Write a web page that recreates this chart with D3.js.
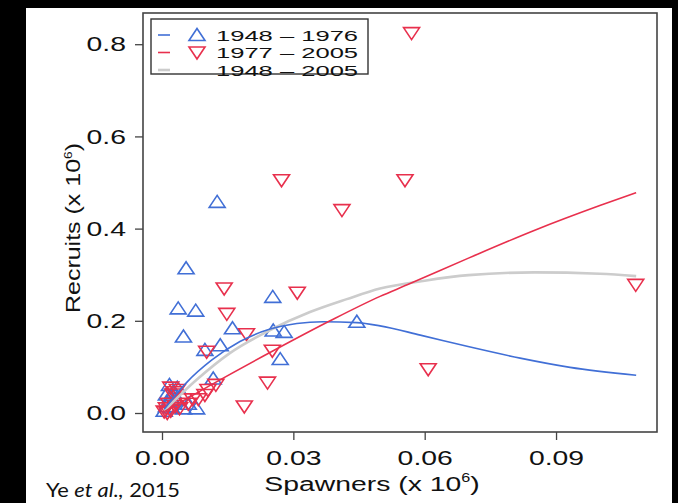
<!DOCTYPE html>
<html><head><meta charset="utf-8">
<script src="https://cdn.jsdelivr.net/npm/d3@7"></script>
<style>html,body{margin:0;padding:0;background:#000;}svg{display:block;}</style>
</head><body>
<svg id="c" width="678" height="503"></svg>
<script>
// ---- data ----
const xTicks = [0.00, 0.03, 0.06, 0.09];
const yTicks = [0.0, 0.2, 0.4, 0.6, 0.8];
const legendLabels = ["1948 \u2013 1976", "1977 \u2013 2005", "1948 \u2013 2005"];

// 1948-1976 (blue, up triangles): spawners, recruits
const earlyS = [0.0126,0.0055,0.0037,0.0077,0.0049,0.0253,0.0161,0.0254,0.0279,0.0270,0.0445,0.0133,0.0098,0.0117,0.0017,0.0079,0.0049,0.0005,0.0010,0.0015,0.0020,0.0025,0.0030,0.0035,0.0060,0.0010,0.0022];
const earlyR = [0.458,0.314,0.227,0.222,0.166,0.252,0.184,0.179,0.176,0.117,0.198,0.147,0.137,0.075,0.061,0.010,0.010,0.005,0.015,0.025,0.035,0.045,0.030,0.055,0.020,0.040,0.012];

// 1977-2005 (red, down triangles)
const lateS = [0.0570,0.0555,0.1082,0.0608,0.0273,0.0411,0.0142,0.0309,0.0148,0.0193,0.0252,0.0102,0.0241,0.0188,0.0123,0.0098,0.0083,0.0005,0.0010,0.0015,0.0020,0.0030,0.0040,0.0025,0.0035,0.0050,0.0060,0.0070,0.0105,0.0020,0.0030,0.0012];
const lateR = [0.824,0.505,0.278,0.095,0.505,0.440,0.270,0.261,0.215,0.171,0.135,0.133,0.066,0.014,0.061,0.039,0.030,0.003,0.010,0.020,0.005,0.015,0.010,0.040,0.050,0.030,0.020,0.030,0.050,0.055,0.045,0.000];

// fitted curves
const fitEarlyS = [0.0005,0.0056,0.0114,0.0178,0.0247,0.0308,0.0368,0.0445,0.0498,0.0590,0.0704,0.0818,0.0932,0.1083];
const fitEarlyR = [0.008,0.066,0.115,0.155,0.182,0.194,0.198,0.196,0.189,0.169,0.143,0.119,0.099,0.082];
const fitLateS  = [0.0005,0.0110,0.0254,0.0384,0.0498,0.0560,0.0700,0.0850,0.1000,0.1083];
const fitLateR  = [0.003,0.060,0.135,0.200,0.253,0.278,0.336,0.396,0.450,0.478];
const fitAllS   = [0.0005,0.0079,0.0155,0.0247,0.0338,0.0422,0.0498,0.0600,0.0700,0.0850,0.1000,0.1083];
const fitAllR   = [0.005,0.072,0.130,0.180,0.219,0.247,0.270,0.287,0.299,0.305,0.302,0.297];

const blue = "#416fd6", red = "#e8304d", gray = "#cccccc";

// ---- layout ----
const svg = d3.select("#c");
svg.append("rect").attr("x",26).attr("y",8).attr("width",646).attr("height",495).attr("fill","#fff");

const L = 143, R = 657, T = 13, B = 432;
const x = d3.scaleLinear().domain([-0.00434, 0.11306]).range([L, R]);
const y = d3.scaleLinear().domain([-0.0412, 0.8677]).range([B, T]);

const font = "'Liberation Sans', Arial, Helvetica, sans-serif";
const SX = 1.35; // horizontal stretch of the original figure's lettering

function stretchText(sel, sx){
  sel.each(function(){
    const t = d3.select(this);
    const ax = +t.attr("x") || 0, ay = +t.attr("y") || 0;
    t.attr("transform", `translate(${ax},${ay}) scale(${sx},1) translate(${-ax},${-ay})`);
  });
}

// axes
const xAxis = svg.append("g").attr("transform",`translate(0,${B})`)
  .call(d3.axisBottom(x).tickValues(xTicks).tickFormat(d3.format(".2f")).tickSize(8).tickPadding(10));
const yAxis = svg.append("g").attr("transform",`translate(${L},0)`)
  .call(d3.axisLeft(y).tickValues(yTicks).tickFormat(d3.format(".1f")).tickSize(8).tickPadding(9));
[xAxis,yAxis].forEach(g=>{
  g.select(".domain").remove();
  g.selectAll(".tick line").attr("stroke","#444").attr("stroke-width",1.3);
  g.selectAll(".tick text").attr("font-family",font).attr("font-size",21).attr("fill","#111");
  stretchText(g.selectAll(".tick text"), SX);
});

// plot box
svg.append("rect").attr("x",L).attr("y",T).attr("width",R-L).attr("height",B-T)
  .attr("fill","none").attr("stroke","#444").attr("stroke-width",1.6);

// curves
const line = d3.line().curve(d3.curveMonotoneX);
function drawFit(xs, ys, color, w){
  svg.append("path").attr("d", line(xs.map((s,i)=>[x(s), y(ys[i])])))
    .attr("fill","none").attr("stroke",color).attr("stroke-width",w);
}

// triangles
function triUp(cx, cy){ return `M${cx-8},${cy+5.5}L${cx+8},${cy+5.5}L${cx},${cy-6.5}Z`; }
function triDown(cx, cy){ return `M${cx-8},${cy-5.5}L${cx+8},${cy-5.5}L${cx},${cy+6.5}Z`; }

const gPts = svg.append("g");
gPts.selectAll("path.e").data(earlyS).join("path").attr("class","e")
  .attr("d",(s,i)=>triUp(x(s), y(earlyR[i])))
  .attr("fill","none").attr("stroke",blue).attr("stroke-width",1.6);
gPts.selectAll("path.l").data(lateS).join("path").attr("class","l")
  .attr("d",(s,i)=>triDown(x(s), y(lateR[i])))
  .attr("fill","none").attr("stroke",red).attr("stroke-width",1.6);

drawFit(fitAllS, fitAllR, gray, 2.6);
drawFit(fitEarlyS, fitEarlyR, blue, 1.6);
drawFit(fitLateS, fitLateR, red, 1.6);

// legend
const lg = svg.append("g");
lg.append("rect").attr("x",151).attr("y",19).attr("width",217).attr("height",55)
  .attr("fill","#fff").attr("stroke","#333").attr("stroke-width",1.4);
const rows = [{c:blue, t:"up"},{c:red, t:"down"},{c:gray, t:null}];
rows.forEach((r,i)=>{
  const cy = 35 + i*17.5;
  lg.append("line").attr("x1",158).attr("x2",170).attr("y1",cy).attr("y2",cy)
    .attr("stroke",r.c).attr("stroke-width",r.t?1.6:2.6);
  if(r.t==="up") lg.append("path").attr("d",triUp(197,cy)).attr("fill","none").attr("stroke",r.c).attr("stroke-width",1.6);
  if(r.t==="down") lg.append("path").attr("d",triDown(197,cy)).attr("fill","none").attr("stroke",r.c).attr("stroke-width",1.6);
  const t = lg.append("text").attr("x",216).attr("y",cy+5.8).attr("font-family",font).attr("font-size",15.5).attr("fill","#111")
    .text(legendLabels[i]);
  stretchText(t, 1.65);
});

// axis titles
const xt = svg.append("text").attr("x",372).attr("y",491).attr("text-anchor","middle")
  .attr("font-family",font).attr("font-size",21).attr("fill","#111");
xt.append("tspan").text("Spawners (x 10");
xt.append("tspan").attr("font-size",12).attr("dy",-9).text("6");
xt.append("tspan").attr("dy",9).text(")");
stretchText(xt, SX);

const yt = svg.append("text").attr("transform",`translate(80,228) rotate(-90) scale(1.25,1)`).attr("text-anchor","middle")
  .attr("font-family",font).attr("font-size",20).attr("fill","#111");
yt.append("tspan").text("Recruits (x 10");
yt.append("tspan").attr("font-size",11).attr("dy",-8).text("6");
yt.append("tspan").attr("dy",8).text(")");

// source
const src = svg.append("text").attr("x",46).attr("y",497).attr("font-family","Lato, 'Open Sans', sans-serif")
  .attr("font-size",19).attr("fill","#111");
src.append("tspan").text("Ye ");
src.append("tspan").attr("font-style","italic").text("et al.,");
src.append("tspan").text(" 2015");
stretchText(src, 1.15);
</script>
</body></html>
